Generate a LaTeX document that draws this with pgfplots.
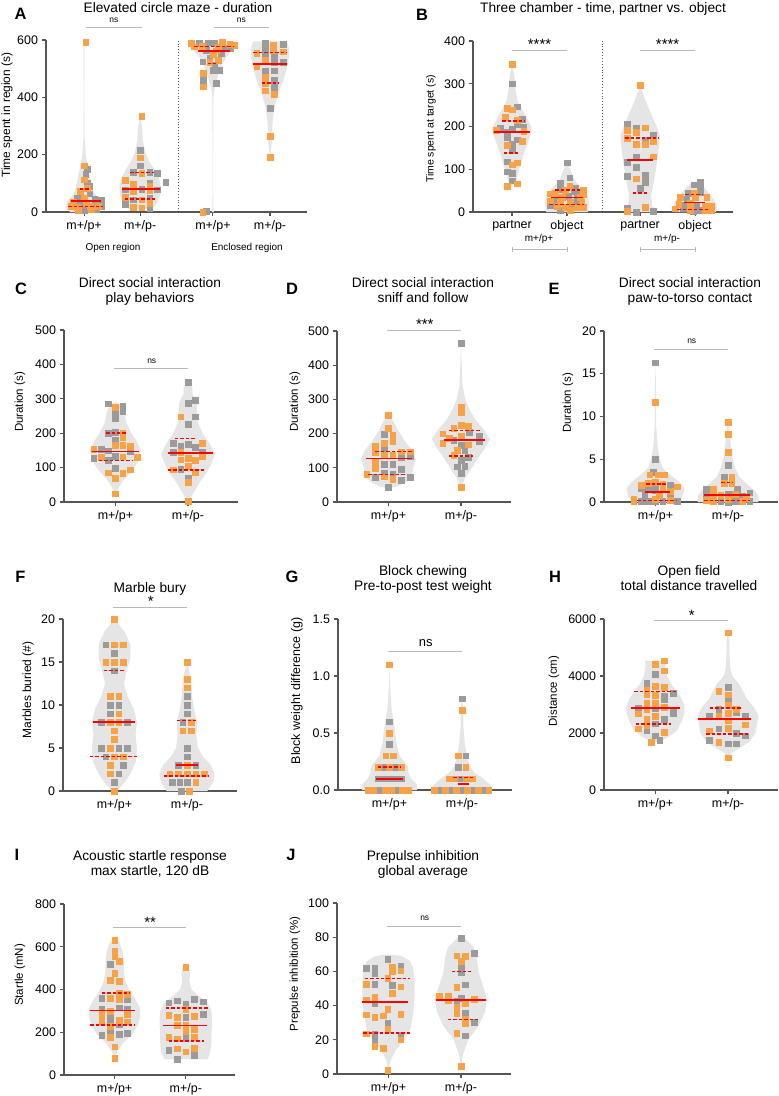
\documentclass[border=0pt]{standalone}
\usepackage{fontspec}
\setmainfont{Liberation Sans}
\usepackage{pgfplots}
\pgfplotsset{compat=1.18}
\usepackage{pgfplotstable}

\definecolor{pg}{RGB}{155,155,155}
\definecolor{po}{RGB}{247,162,70}
\definecolor{vf}{RGB}{229,229,229}
\definecolor{axc}{RGB}{85,85,85}
\definecolor{sgc}{RGB}{185,185,185}
\definecolor{rd}{RGB}{255,0,0}

\newcommand\tlf{\fontsize{12.5}{14}\selectfont}
\newcommand\ttf{\fontsize{13.8}{16}\selectfont}
\newcommand\ylf{\fontsize{11.5}{13}\selectfont}
\newcommand\lbf{\fontsize{16.5}{18}\selectfont\bfseries}
\newcommand\nsf{\fontsize{8.5}{10}\selectfont}
\newcommand\stf{\fontsize{15}{16}\selectfont}
\newcommand\smf{\fontsize{10}{12}\selectfont}

\pgfplotsset{
 panel/.style={
   scale only axis, anchor=south west,
   axis lines*=left,
   axis line style={draw=axc, line width=1.3pt, -},
   tick style={draw=axc, line width=1.1pt},
   tick align=outside, major tick length=4.5pt,
   xtick pos=bottom, ytick pos=left,
   ymin=0, clip=false, clip marker paths=true,
   tick label style={font=\tlf, text=black},
   /pgf/number format/assume math mode=true,
   minor tick num=0,
 },
 cpanel/.style={panel, width=174bp, height=171bp, xmin=0.29, xmax=2.69,
   xtick={1,2}, xticklabels={m+/p+,m+/p-}},
 gp/.style={only marks, mark=square*, mark size=2.85pt, color=pg, forget plot},
 op/.style={only marks, mark=square*, mark size=2.85pt, color=po, forget plot},
 ml/.style={rd, line width=1.8pt, no marks, forget plot},
 ql/.style={rd, line width=1.5pt, dash pattern=on 3.5pt off 2pt, no marks, forget plot},
}

\newcommand\violin[2]{%
 \addplot[fill=vf, draw=none, no marks, forget plot] table[x expr={#1+\thisrow{s}*\thisrow{w}}, y=y] {#2};
}
\newcommand\sig[6]{%
 \draw[draw=sgc, line width=0.9pt] (axis cs:#1,#4) -- (axis cs:#2,#4);
 \node[anchor=base, inner sep=0pt, yshift=#5] at (axis cs:#3,#4) {#6};
}

% ---------------- violin outlines (y, half width, side) ----------------
\pgfplotstableread{
y w s
0 0.25 1
15 0.33 1
35 0.31 1
55 0.22 1
75 0.16 1
100 0.13 1
130 0.1 1
160 0.07 1
200 0.03 1
260 0.01 1
400 0.006 1
560 0.01 1
592 0 1
560 0.01 -1
400 0.006 -1
260 0.01 -1
200 0.03 -1
160 0.07 -1
130 0.1 -1
100 0.13 -1
75 0.16 -1
55 0.22 -1
35 0.31 -1
15 0.33 -1
0 0.25 -1
}\vAa
\pgfplotstableread{
y w s
10 0.2 1
30 0.3 1
60 0.36 1
90 0.37 1
120 0.33 1
150 0.25 1
180 0.15 1
210 0.09 1
250 0.05 1
290 0.04 1
335 0 1
290 0.04 -1
250 0.05 -1
210 0.09 -1
180 0.15 -1
150 0.25 -1
120 0.33 -1
90 0.37 -1
60 0.36 -1
30 0.3 -1
10 0.2 -1
}\vAb
\pgfplotstableread{
y w s
0 0.02 1
15 0.01 1
100 0.003 1
400 0.01 1
430 0.03 1
450 0.06 1
480 0.1 1
510 0.16 1
540 0.24 1
560 0.33 1
580 0.42 1
595 0.4 1
595 0.4 -1
580 0.42 -1
560 0.33 -1
540 0.24 -1
510 0.16 -1
480 0.1 -1
450 0.06 -1
430 0.03 -1
400 0.01 -1
100 0.003 -1
15 0.01 -1
0 0.02 -1
}\vAc
\pgfplotstableread{
y w s
190 0 1
220 0.02 1
260 0.04 1
300 0.04 1
340 0.06 1
380 0.1 1
420 0.16 1
460 0.24 1
500 0.3 1
540 0.34 1
570 0.34 1
595 0.3 1
595 0.3 -1
570 0.34 -1
540 0.34 -1
500 0.3 -1
460 0.24 -1
420 0.16 -1
380 0.1 -1
340 0.06 -1
300 0.04 -1
260 0.04 -1
220 0.02 -1
}\vAd
\pgfplotstableread{
y w s
60 0 1
75 0.08 1
100 0.13 1
130 0.2 1
160 0.28 1
185 0.35 1
200 0.35 1
220 0.27 1
240 0.18 1
260 0.1 1
290 0.06 1
320 0.04 1
345 0 1
320 0.04 -1
290 0.06 -1
260 0.1 -1
240 0.18 -1
220 0.27 -1
200 0.35 -1
185 0.35 -1
160 0.28 -1
130 0.2 -1
100 0.13 -1
75 0.08 -1
}\vBa
\pgfplotstableread{
y w s
0 0.38 1
20 0.4 1
40 0.38 1
55 0.28 1
70 0.16 1
85 0.1 1
100 0.06 1
115 0 1
100 0.06 -1
85 0.1 -1
70 0.16 -1
55 0.28 -1
40 0.38 -1
20 0.4 -1
0 0.38 -1
}\vBb
\pgfplotstableread{
y w s
0 0.3 1
15 0.22 1
40 0.2 1
70 0.25 1
110 0.3 1
150 0.34 1
180 0.36 1
200 0.3 1
230 0.2 1
260 0.1 1
296 0 1
260 0.1 -1
230 0.2 -1
200 0.3 -1
180 0.36 -1
150 0.34 -1
110 0.3 -1
70 0.25 -1
40 0.2 -1
15 0.22 -1
0 0.3 -1
}\vBc
\pgfplotstableread{
y w s
0 0.38 1
10 0.4 1
25 0.36 1
40 0.28 1
55 0.18 1
65 0.1 1
72 0 1
65 0.1 -1
55 0.18 -1
40 0.28 -1
25 0.36 -1
10 0.4 -1
0 0.38 -1
}\vBd
\pgfplotstableread{
y w s
20 0 1
40 0.04 1
60 0.1 1
80 0.18 1
100 0.26 1
125 0.33 1
150 0.35 1
175 0.3 1
200 0.22 1
230 0.15 1
260 0.12 1
280 0.08 1
290 0 1
280 0.08 -1
260 0.12 -1
230 0.15 -1
200 0.22 -1
175 0.3 -1
150 0.35 -1
125 0.33 -1
100 0.26 -1
80 0.18 -1
60 0.1 -1
40 0.04 -1
}\vCa
\pgfplotstableread{
y w s
0 0 1
20 0.06 1
50 0.14 1
80 0.24 1
110 0.32 1
140 0.37 1
170 0.3 1
200 0.2 1
230 0.14 1
260 0.13 1
290 0.12 1
315 0.06 1
335 0.06 1
350 0 1
335 0.06 -1
315 0.06 -1
290 0.12 -1
260 0.13 -1
230 0.14 -1
200 0.2 -1
170 0.3 -1
140 0.37 -1
110 0.32 -1
80 0.24 -1
50 0.14 -1
20 0.06 -1
}\vCb
\pgfplotstableread{
y w s
40 0 1
45 0.12 1
60 0.26 1
80 0.33 1
100 0.34 1
125 0.38 1
150 0.33 1
180 0.22 1
210 0.13 1
240 0.06 1
255 0 1
240 0.06 -1
210 0.13 -1
180 0.22 -1
150 0.33 -1
125 0.38 -1
100 0.34 -1
80 0.33 -1
60 0.26 -1
45 0.12 -1
}\vDa
\pgfplotstableread{
y w s
40 0 1
70 0.06 1
100 0.15 1
130 0.24 1
160 0.34 1
185 0.4 1
210 0.32 1
240 0.2 1
270 0.12 1
300 0.06 1
340 0.02 1
400 0.01 1
465 0 1
400 0.01 -1
340 0.02 -1
300 0.06 -1
270 0.12 -1
240 0.2 -1
210 0.32 -1
185 0.4 -1
160 0.34 -1
130 0.24 -1
100 0.15 -1
70 0.06 -1
}\vDb
\pgfplotstableread{
y w s
0 0.33 1
0.8 0.38 1
1.6 0.4 1
2.4 0.32 1
3.2 0.2 1
4 0.1 1
5 0.06 1
6.5 0.03 1
9 0.01 1
12 0.01 1
16.3 0 1
12 0.01 -1
9 0.01 -1
6.5 0.03 -1
5 0.06 -1
4 0.1 -1
3.2 0.2 -1
2.4 0.32 -1
1.6 0.4 -1
0.8 0.38 -1
0 0.33 -1
}\vEa
\pgfplotstableread{
y w s
0 0.42 1
0.7 0.42 1
1.4 0.36 1
2.2 0.25 1
3 0.15 1
4 0.1 1
5.5 0.05 1
7.5 0.03 1
9.3 0 1
7.5 0.03 -1
5.5 0.05 -1
4 0.1 -1
3 0.15 -1
2.2 0.25 -1
1.4 0.36 -1
0.7 0.42 -1
0 0.42 -1
}\vEb
\pgfplotstableread{
y w s
0 0.03 1
1 0.14 1
2 0.22 1
3.5 0.3 1
5 0.31 1
6.5 0.29 1
8 0.31 1
9.5 0.27 1
11 0.18 1
12.5 0.13 1
14 0.17 1
15.5 0.22 1
17 0.22 1
18.5 0.14 1
20 0 1
18.5 0.14 -1
17 0.22 -1
15.5 0.22 -1
14 0.17 -1
12.5 0.13 -1
11 0.18 -1
9.5 0.27 -1
8 0.31 -1
6.5 0.29 -1
5 0.31 -1
3.5 0.3 -1
2 0.22 -1
1 0.14 -1
0 0.03 -1
}\vFa
\pgfplotstableread{
y w s
0 0.28 1
1 0.36 1
2 0.38 1
3 0.33 1
4 0.22 1
5 0.15 1
6.5 0.13 1
8 0.14 1
9.5 0.1 1
11 0.07 1
13 0.06 1
15 0 1
13 0.06 -1
11 0.07 -1
9.5 0.1 -1
8 0.14 -1
6.5 0.13 -1
5 0.15 -1
4 0.22 -1
3 0.33 -1
2 0.38 -1
1 0.36 -1
0 0.28 -1
}\vFb
\pgfplotstableread{
y w s
0 0.38 1
0.05 0.38 1
0.1 0.3 1
0.15 0.26 1
0.2 0.26 1
0.25 0.2 1
0.3 0.14 1
0.4 0.1 1
0.5 0.08 1
0.6 0.06 1
0.7 0.03 1
0.9 0.01 1
1.1 0 1
0.9 0.01 -1
0.7 0.03 -1
0.6 0.06 -1
0.5 0.08 -1
0.4 0.1 -1
0.3 0.14 -1
0.25 0.2 -1
0.2 0.26 -1
0.15 0.26 -1
0.1 0.3 -1
0.05 0.38 -1
0 0.38 -1
}\vGa
\pgfplotstableread{
y w s
0 0.42 1
0.04 0.4 1
0.08 0.33 1
0.12 0.25 1
0.16 0.16 1
0.22 0.1 1
0.3 0.07 1
0.4 0.04 1
0.55 0.02 1
0.7 0.02 1
0.8 0 1
0.7 0.02 -1
0.55 0.02 -1
0.4 0.04 -1
0.3 0.07 -1
0.22 0.1 -1
0.16 0.16 -1
0.12 0.25 -1
0.08 0.33 -1
0.04 0.4 -1
0 0.42 -1
}\vGb
\pgfplotstableread{
y w s
1684 0 1
1750 0.1 1
1900 0.2 1
2100 0.3 1
2400 0.36 1
2700 0.4 1
2950 0.4 1
3200 0.36 1
3450 0.3 1
3700 0.22 1
4000 0.16 1
4300 0.14 1
4540 0.14 1
4540 0.14 -1
4300 0.14 -1
4000 0.16 -1
3700 0.22 -1
3450 0.3 -1
3200 0.36 -1
2950 0.4 -1
2700 0.4 -1
2400 0.36 -1
2100 0.3 -1
1900 0.2 -1
1750 0.1 -1
}\vHa
\pgfplotstableread{
y w s
1135 0 1
1300 0.05 1
1500 0.18 1
1700 0.3 1
2000 0.38 1
2300 0.4 1
2600 0.42 1
2900 0.36 1
3200 0.26 1
3500 0.2 1
3700 0.16 1
4000 0.06 1
4300 0.03 1
4800 0.02 1
5200 0.02 1
5520 0 1
5200 0.02 -1
4800 0.02 -1
4300 0.03 -1
4000 0.06 -1
3700 0.16 -1
3500 0.2 -1
3200 0.26 -1
2900 0.36 -1
2600 0.42 -1
2300 0.4 -1
2000 0.38 -1
1700 0.3 -1
1500 0.18 -1
1300 0.05 -1
}\vHb
\pgfplotstableread{
y w s
78 0 1
110 0.04 1
150 0.12 1
190 0.25 1
230 0.32 1
270 0.36 1
310 0.36 1
350 0.3 1
390 0.22 1
430 0.16 1
480 0.13 1
530 0.13 1
580 0.11 1
620 0.07 1
640 0 1
620 0.07 -1
580 0.11 -1
530 0.13 -1
480 0.13 -1
430 0.16 -1
390 0.22 -1
350 0.3 -1
310 0.36 -1
270 0.36 -1
230 0.32 -1
190 0.25 -1
150 0.12 -1
110 0.04 -1
}\vIa
\pgfplotstableread{
y w s
73 0.3 1
100 0.34 1
150 0.36 1
200 0.36 1
250 0.37 1
300 0.36 1
340 0.3 1
370 0.18 1
400 0.08 1
440 0.05 1
480 0.06 1
504 0.04 1
515 0 1
504 0.04 -1
480 0.06 -1
440 0.05 -1
400 0.08 -1
370 0.18 -1
340 0.3 -1
300 0.36 -1
250 0.37 -1
200 0.36 -1
150 0.36 -1
100 0.34 -1
73 0.3 -1
}\vIb
\pgfplotstableread{
y w s
2 0 1
8 0.03 1
14 0.1 1
20 0.22 1
26 0.3 1
35 0.34 1
45 0.36 1
55 0.36 1
62 0.34 1
66 0.3 1
69 0.18 1
70 0 1
69 0.18 -1
66 0.3 -1
62 0.34 -1
55 0.36 -1
45 0.36 -1
35 0.34 -1
26 0.3 -1
20 0.22 -1
14 0.1 -1
8 0.03 -1
}\vJa
\pgfplotstableread{
y w s
4.5 0 1
12 0.03 1
20 0.1 1
28 0.24 1
36 0.33 1
44 0.36 1
52 0.3 1
60 0.24 1
68 0.22 1
74 0.18 1
80 0.04 1
80 0.04 -1
74 0.18 -1
68 0.22 -1
60 0.24 -1
52 0.3 -1
44 0.36 -1
36 0.33 -1
28 0.24 -1
20 0.1 -1
12 0.03 -1
}\vJb

% ---------------- points ----------------
\pgfplotstableread{
x y
0.73 149
0.71 132
0.73 101
0.78 91
0.78 64
0.56 47
0.87 44
0.99 41
0.60 35
0.87 29
0.67 23
0.99 21
0.69 6
0.90 8
1.68 216
1.68 161
1.56 140
1.85 140
1.99 136
1.85 101
2.14 105
1.41 78
1.71 79
1.98 78
1.56 43
1.85 50
1.41 27
1.85 12
2.74 589
2.89 591
3.01 589
3.30 572
2.83 577
2.86 565
3.20 571
3.13 554
2.92 536
2.80 524
3.01 513
3.10 495
2.98 495
2.81 460
3.04 449
2.86 3
3.91 589
4.23 585
3.91 571
4.07 544
3.91 548
4.07 521
4.23 522
3.91 490
4.07 493
4.07 460
4.07 435
4.00 361
}\Ag
\pgfplotstableread{
x y
0.71 592
0.68 161
0.68 113
0.61 72
0.74 82
0.68 47
0.48 35
0.72 29
0.44 20
0.56 17
0.79 20
0.93 20
0.57 6
0.81 8
1.71 335
1.68 189
1.71 136
1.41 111
1.56 97
1.85 90
1.56 73
1.85 76
1.41 52
1.71 43
1.85 31
1.56 17
1.71 15
2.59 589
3.15 593
3.28 585
2.79 579
3.07 577
2.65 577
3.37 583
3.04 563
2.98 550
3.07 530
2.92 522
2.81 484
2.81 437
2.80 0
4.06 583
4.06 563
3.76 554
4.23 559
3.91 530
3.76 507
3.91 470
3.91 449
3.91 423
4.07 411
4.00 265
4.00 190
}\Ao
\pgfplotstableread{
x y
0.71 300
0.80 246
0.89 217
0.80 205
0.50 197
0.71 195
0.92 199
0.62 186
0.62 175
0.80 169
0.71 160
0.71 144
0.62 118
0.62 94
0.71 90
0.71 73
1.71 115
1.76 80
1.59 68
1.86 57
1.59 52
1.83 49
1.92 43
1.53 35
1.74 37
1.89 35
1.50 21
1.86 21
1.41 16
1.80 12
1.59 4
2.80 205
2.97 196
3.28 179
3.13 168
2.97 129
2.80 117
2.97 105
2.80 83
3.13 86
3.13 70
3.04 55
2.80 10
2.97 0
3.28 2
4.13 70
4.02 64
4.13 56
4.13 47
3.92 44
3.89 31
3.83 16
4.07 14
3.83 8
4.10 5
4.00 2
}\Bg
\pgfplotstableread{
x y
0.71 345
0.62 243
0.71 239
0.59 221
0.80 214
0.42 191
0.92 189
0.89 165
0.62 156
0.71 111
0.80 115
0.80 66
0.62 60
1.76 61
1.41 43
1.50 44
1.68 51
2.01 52
2.01 41
1.62 34
1.95 34
1.41 26
1.59 23
1.77 23
1.98 23
1.53 13
1.68 12
1.89 10
2.01 12
1.77 4
3.04 296
3.13 197
2.80 191
2.97 186
2.80 172
3.13 158
2.97 158
3.28 166
3.28 129
2.97 78
3.13 12
2.80 2
4.02 44
3.77 35
4.04 35
4.25 34
3.74 18
3.95 20
4.22 14
4.34 14
3.68 8
3.95 5
4.22 5
4.34 5
}\Bo
\pgfplotstableread{
x y
0.9 286
1.1 279
1.1 264
1.0 262
1.0 243
1.0 202
0.9 200
1.0 181
0.8 154
0.9 149
1.2 146
0.7 127
1.0 133
0.9 122
1.0 99
2.0 348
2.0 288
2.1 295
2.1 248
2.0 227
1.8 171
1.9 162
2.0 168
2.1 160
1.8 144
2.2 146
1.9 96
2.0 70
}\Cg
\pgfplotstableread{
x y
1.0 276
1.1 200
1.1 188
1.0 165
1.1 165
1.2 163
0.7 154
0.8 130
1.1 132
1.3 130
0.9 85
1.1 84
1.2 94
1.0 69
1.0 24
1.9 248
2.2 171
1.9 144
2.2 133
1.9 123
2.0 128
2.1 122
1.8 94
2.0 104
2.1 87
2.0 58
2.0 3
}\Co
\pgfplotstableread{
x y
0.94 198
0.94 153
1.18 132
1.30 134
0.94 111
1.06 111
1.18 95
0.94 84
1.06 82
0.82 72
1.18 64
1.30 72
1.00 43
2.00 464
2.11 205
2.25 192
1.90 180
2.00 166
2.05 151
2.10 132
2.00 122
1.95 103
2.05 105
2.00 84
2.25 176
}\Dg
\pgfplotstableread{
x y
1.00 253
1.00 216
1.06 195
1.06 178
0.94 171
0.82 163
1.18 147
1.30 147
0.82 144
0.94 137
1.06 137
0.82 117
0.82 98
0.70 82
0.94 74
1.06 66
2.00 278
2.00 261
1.90 215
2.00 224
2.10 222
1.75 200
2.00 192
1.75 171
2.10 168
1.90 137
1.95 151
2.00 43
1.84 186
}\Do
\pgfplotstableread{
x y
1.00 16.3
1.00 5.0
0.97 3.5
1.20 2.0
1.00 1.9
0.80 1.6
0.90 1.5
1.00 1.4
1.20 1.0
0.85 0.8
0.80 0.1
0.90 0.1
1.00 0.1
1.10 0.1
1.30 0.1
2.00 4.3
1.95 2.9
1.70 1.5
2.13 1.5
2.30 1.1
1.70 0.9
2.00 0.9
2.20 0.7
1.80 0.3
1.90 0.1
2.10 0.1
2.30 0.1
2.00 0.0
}\Eg
\pgfplotstableread{
x y
1.00 11.7
0.92 3.2
1.04 3.2
1.12 3.2
1.00 2.3
0.90 2.2
1.10 2.1
0.80 2.0
1.30 1.8
1.10 1.5
1.20 1.3
0.70 0.4
1.05 0.8
1.00 0.3
1.20 0.2
0.70 0.1
2.00 9.3
2.00 7.9
2.00 5.8
2.05 2.9
1.95 2.2
2.05 2.2
1.80 1.5
1.80 0.7
1.90 0.8
2.10 0.9
2.25 0.4
1.70 0.2
2.00 0.3
2.20 0.1
1.80 0.05
}\Eo
\pgfplotstableread{
x y
0.88 17
1.00 16
1.00 14
0.94 10
1.06 10
0.94 9
0.82 8
1.18 8
0.82 5
1.06 5
1.18 5
0.88 4
1.12 3
1.06 2
1.00 1
2.00 11
2.00 10
2.00 9
1.94 8
2.00 5
2.00 4
1.88 3
2.12 3
1.80 1
1.90 1
2.00 1
1.92 0
}\Fg
\pgfplotstableread{
x y
1.00 20
1.00 17
1.12 17
0.88 15
1.00 15
1.12 15
0.94 11
1.06 11
1.06 9
0.94 8
1.06 8
1.00 7
1.00 6
0.94 5
1.00 4
1.12 4
0.94 3
0.94 2
1.00 0
2.00 15
2.00 13
2.00 12
2.06 8
1.94 7
2.06 7
2.00 3
1.76 2
1.88 2
2.00 2
2.12 2
2.24 2
2.12 1
2.03 0
}\Fo
\pgfplotstableread{
x y
1.00 0.6
1.00 0.4
0.92 0.2
1.08 0.2
0.84 0.1
0.92 0.1
1.00 0.1
1.08 0.1
1.16 0.1
0.86 0
1.10 0
2.00 0.8
2.05 0.3
1.95 0.2
1.98 0.1
1.695 0
1.845 0
1.995 0
2.145 0
2.295 0
}\Gg
\pgfplotstableread{
x y
1.00 1.1
1.00 0.5
0.95 0.3
1.05 0.3
0.84 0.2
1.00 0.2
1.16 0.2
0.70 0
0.78 0
0.94 0
1.02 0
1.18 0
1.26 0
2.00 0.7
1.95 0.3
2.05 0.2
1.82 0.1
1.90 0.1
2.06 0.1
2.14 0.1
1.62 0
1.77 0
1.92 0
2.07 0
2.22 0
2.37 0
}\Go
\pgfplotstableread{
x y
1.00 4070
0.88 3754
1.24 3404
1.12 3287
1.12 3170
0.76 2877
1.00 2877
1.24 2819
1.24 2678
1.12 2491
1.00 2327
0.88 2082
1.00 1906
1.06 1743
2.00 3614
2.00 3205
1.87 2842
1.74 2585
2.11 2725
2.24 2585
1.87 2152
2.11 2000
2.24 1906
1.74 1743
2.00 1626
2.11 1626
}\Hg
\pgfplotstableread{
x y
1.12 4538
1.00 4421
1.12 4187
1.00 3637
1.12 3614
0.88 3520
0.88 3345
1.00 3322
0.88 3053
1.00 3053
1.12 2912
0.88 2819
0.76 2678
1.00 2585
0.88 2503
0.88 2269
0.76 2152
1.12 2035
0.94 1684
2.00 5520
1.87 3462
2.00 3345
2.00 2971
2.11 2842
1.87 2585
2.00 2702
2.00 2433
2.00 2175
1.74 2082
2.24 2292
1.87 1684
2.00 1135
}\Ho
\pgfplotstableread{
x y
0.94 520
0.82 359
1.18 354
0.82 307
1.06 315
1.18 307
0.94 276
0.94 254
0.94 211
1.06 239
0.82 187
1.06 192
1.18 195
1.76 338
1.88 348
2.00 332
2.12 354
2.24 343
2.00 270
2.24 284
2.00 173
1.76 117
2.12 92
1.88 73
}\Ig
\pgfplotstableread{
x y
1.00 632
1.00 582
1.00 555
1.06 534
1.00 476
0.94 445
1.06 440
1.06 385
1.18 379
0.94 359
1.06 354
0.94 300
0.82 285
1.18 285
0.82 253
1.06 257
1.18 250
0.94 229
0.94 176
1.00 133
1.00 78
2.00 504
2.00 307
1.76 281
1.88 270
2.12 276
1.88 234
2.00 234
2.00 203
2.12 214
1.76 176
1.88 170
2.12 176
1.88 123
2.00 109
2.12 125
}\Io
\pgfplotstableread{
x y
0.99 67
0.69 62
0.81 62
1.17 63
0.81 59
0.81 52.6
1.05 51.9
0.81 41.5
0.99 29.8
0.81 23.6
1.17 23
0.81 20.5
2.00 79.5
2.18 70.8
2.00 62
2.00 59.5
2.06 52.2
2.00 44.4
1.94 42.5
2.06 35.7
2.18 30.4
2.06 22.4
}\Jg
\pgfplotstableread{
x y
1.05 62.6
1.05 60
1.17 60.4
0.99 56
0.69 52.6
1.17 51
1.05 47.4
0.69 43.5
0.81 44.8
0.99 38
0.69 34.7
0.81 33.3
0.93 34.1
1.17 34.9
0.99 26.3
0.69 23.6
1.17 20
0.81 16.2
0.93 15.2
0.99 2.1
1.94 69.2
2.06 68.8
2.00 65.9
1.94 50.9
1.70 45.8
1.82 45.8
2.06 41.1
2.18 43.9
1.82 42.9
1.94 39.2
1.94 35.3
2.06 32.2
2.06 29.4
1.94 24
2.00 4.5
}\Jo

\begin{document}
\begin{tikzpicture}

% ---------------- A ----------------
\begin{axis}[panel, at={(46bp,-212bp)}, width=261bp, height=172bp,
  xmin=0, xmax=4.66, ymax=600,
  xtick={0.68,1.68,2.98,4.0}, xticklabels={m+/p+,m+/p-,m+/p+,m+/p-},
  ytick={0,200,400,600}, yticklabels={0,200,400,600}]
\violin{0.68}{\vAa}
\violin{1.68}{\vAb}
\violin{2.98}{\vAc}
\violin{4.0}{\vAd}
\addplot[gp] table {\Ag};
\addplot[op] table {\Ao};
\addplot[ml] coordinates {(0.44,38) (0.99,38)};
\addplot[ql] coordinates {(0.60,80) (0.77,80)};
\addplot[ql] coordinates {(0.40,20) (1.02,20)};
\addplot[ml] coordinates {(1.35,80) (2.04,80)};
\addplot[ql] coordinates {(1.50,138) (1.92,138)};
\addplot[ql] coordinates {(1.41,45) (1.95,45)};
\addplot[ml] coordinates {(2.71,562) (3.28,562)};
\addplot[ql] coordinates {(2.65,577) (3.34,577)};
\addplot[ql] coordinates {(2.89,518) (3.04,518)};
\addplot[ml] coordinates {(3.70,515) (4.30,515)};
\addplot[ql] coordinates {(3.70,557) (4.30,557)};
\addplot[ql] coordinates {(3.85,450) (4.15,450)};
\draw[axc, line width=0.9pt, dotted] (axis cs:2.36,0) -- (axis cs:2.36,600);
\sig{0.71}{1.71}{1.21}{645}{5bp}{\nsf ns}
\sig{3.0}{3.98}{3.49}{645}{5bp}{\nsf ns}
\end{axis}

% ---------------- B ----------------
\begin{axis}[panel, at={(473bp,-212bp)}, width=260bp, height=171bp,
  xmin=0, xmax=4.73, ymax=400,
  xtick={0.71,1.71,3.04,4.04}, xticklabels={partner,object,partner,object},
  ytick={0,100,200,300,400}, yticklabels={0,100,200,300,400}]
\violin{0.71}{\vBa}
\violin{1.71}{\vBb}
\violin{3.04}{\vBc}
\violin{4.04}{\vBd}
\addplot[gp] table {\Bg};
\addplot[op] table {\Bo};
\addplot[ml] coordinates {(0.38,187) (1.04,187)};
\addplot[ql] coordinates {(0.53,213) (0.95,213)};
\addplot[ql] coordinates {(0.56,138) (0.83,138)};
\addplot[ml] coordinates {(1.41,34) (2.01,34)};
\addplot[ql] coordinates {(1.50,52) (1.95,52)};
\addplot[ql] coordinates {(1.39,17) (2.02,17)};
\addplot[ml] coordinates {(2.81,122) (3.28,122)};
\addplot[ql] coordinates {(2.77,173) (3.38,173)};
\addplot[ql] coordinates {(2.91,45) (3.16,45)};
\addplot[ml] coordinates {(3.83,22) (4.22,22)};
\addplot[ql] coordinates {(3.86,41) (4.19,41)};
\addplot[ql] coordinates {(3.72,6) (4.30,6)};
\draw[axc, line width=0.9pt, dotted] (axis cs:2.36,0) -- (axis cs:2.36,400);
\sig{0.71}{1.71}{1.21}{377}{1bp}{\stf ****}
\sig{3.04}{4.04}{3.54}{377}{1bp}{\stf ****}
\end{axis}

% ---------------- C ----------------
\begin{axis}[cpanel, at={(64bp,-502bp)}, height=172bp, ymax=500,
  ytick={0,100,200,300,400,500}, yticklabels={0,100,200,300,400,500}]
\violin{1}{\vCa}
\violin{2}{\vCb}
\addplot[gp] table {\Cg};
\addplot[op] table {\Co};
\addplot[ml] coordinates {(0.67,147) (1.32,147)};
\addplot[ql] coordinates {(0.87,200) (1.14,200)};
\addplot[ql] coordinates {(0.77,120) (1.23,120)};
\addplot[ml] coordinates {(1.72,143) (2.34,143)};
\addplot[ql] coordinates {(1.82,185) (2.11,185)};
\addplot[ql] coordinates {(1.72,93) (2.23,93)};
\sig{0.98}{2}{1.5}{387}{5bp}{\nsf ns}
\end{axis}

% ---------------- D ----------------
\begin{axis}[cpanel, at={(337bp,-502bp)}, ymax=500,
  ytick={0,100,200,300,400,500}, yticklabels={0,100,200,300,400,500}]
\violin{1}{\vDa}
\violin{2}{\vDb}
\addplot[gp] table {\Dg};
\addplot[op] table {\Do};
\addplot[ml] coordinates {(0.69,127) (1.32,127)};
\addplot[ql] coordinates {(0.82,148) (1.33,148)};
\addplot[ql] coordinates {(0.72,80) (1.23,80)};
\addplot[ml] coordinates {(1.77,182) (2.33,182)};
\addplot[ql] coordinates {(1.83,209) (2.28,209)};
\addplot[ql] coordinates {(1.83,134) (2.17,134)};
\sig{0.98}{2}{1.5}{503}{0.5bp}{\stf ***}
\end{axis}

% ---------------- E ----------------
\begin{axis}[cpanel, at={(604bp,-502bp)}, ymax=20,
  ytick={0,5,10,15,20}, yticklabels={0,5,10,15,20}]
\violin{1}{\vEa}
\violin{2}{\vEb}
\addplot[gp] table {\Eg};
\addplot[op] table {\Eo};
\addplot[ml] coordinates {(0.85,1.2) (1.2,1.2)};
\addplot[ql] coordinates {(0.87,2.1) (1.15,2.1)};
\addplot[ql] coordinates {(0.75,0.15) (1.3,0.15)};
\addplot[ml] coordinates {(1.67,0.86) (2.31,0.86)};
\addplot[ql] coordinates {(1.91,2.3) (2.07,2.3)};
\addplot[ql] coordinates {(1.67,0.2) (2.31,0.2)};
\sig{0.98}{2}{1.5}{17.8}{6bp}{\nsf ns}
\end{axis}

% ---------------- F ----------------
\begin{axis}[cpanel, at={(63bp,-791bp)}, height=172bp, ymax=20,
  ytick={0,5,10,15,20}, yticklabels={0,5,10,15,20}]
\violin{1}{\vFa}
\violin{2}{\vFb}
\addplot[gp] table {\Fg};
\addplot[op] table {\Fo};
\addplot[ml] coordinates {(0.71,8) (1.29,8)};
\addplot[ql] coordinates {(0.85,14) (1.15,14)};
\addplot[ql] coordinates {(0.66,4) (1.31,4)};
\addplot[ml] coordinates {(1.85,3) (2.15,3)};
\addplot[ql] coordinates {(1.86,8.2) (2.12,8.2)};
\addplot[ql] coordinates {(1.68,1.75) (2.31,1.75)};
\sig{0.98}{2}{1.5}{21.4}{0bp}{\stf *}
\end{axis}

% ---------------- G ----------------
\begin{axis}[cpanel, at={(338bp,-790bp)}, ymax=1.5,
  ytick={0,0.5,1,1.5}, yticklabels={0.0,0.5,1.0,1.5}]
\violin{1}{\vGa}
\violin{2}{\vGb}
\addplot[gp] table {\Gg};
\addplot[op] table {\Go};
\addplot[ml] coordinates {(0.82,0.1) (1.18,0.1)};
\addplot[ql] coordinates {(0.84,0.2) (1.16,0.2)};
\addplot[ml] coordinates {(1.94,0.05) (2.1,0.05)};
\addplot[ql] coordinates {(1.88,0.11) (2.18,0.11)};
\sig{0.98}{2}{1.5}{1.219}{5bp}{\fontsize{13}{14}\selectfont ns}
\end{axis}

% ---------------- H ----------------
\begin{axis}[cpanel, at={(604bp,-790bp)}, ymax=6000,
  ytick={0,2000,4000,6000}, yticklabels={0,2000,4000,6000}]
\violin{1}{\vHa}
\violin{2}{\vHb}
\addplot[gp] table {\Hg};
\addplot[op] table {\Ho};
\addplot[ml] coordinates {(0.66,2880) (1.34,2880)};
\addplot[ql] coordinates {(0.71,3450) (1.28,3450)};
\addplot[ql] coordinates {(0.73,2320) (1.22,2320)};
\addplot[ml] coordinates {(1.58,2500) (2.32,2500)};
\addplot[ql] coordinates {(1.75,2880) (2.19,2880)};
\addplot[ql] coordinates {(1.70,1970) (2.27,1970)};
\sig{0.98}{2}{1.5}{5965}{0bp}{\stf *}
\end{axis}

% ---------------- I ----------------
\begin{axis}[cpanel, at={(64bp,-1075bp)}, width=171bp, ymax=800,
  ytick={0,200,400,600,800}, yticklabels={0,200,400,600,800}]
\violin{1}{\vIa}
\violin{2}{\vIb}
\addplot[gp] table {\Ig};
\addplot[op] table {\Io};
\addplot[ml] coordinates {(0.65,302) (1.29,302)};
\addplot[ql] coordinates {(0.82,383) (1.21,383)};
\addplot[ql] coordinates {(0.66,233) (1.29,233)};
\addplot[ml] coordinates {(1.68,232) (2.29,232)};
\addplot[ql] coordinates {(1.72,313) (2.32,313)};
\addplot[ql] coordinates {(1.76,158) (2.26,158)};
\sig{0.98}{2}{1.5}{692}{0bp}{\stf **}
\end{axis}

% ---------------- J ----------------
\begin{axis}[cpanel, at={(337bp,-1074bp)}, ymax=100,
  ytick={0,20,40,60,80,100}, yticklabels={0,20,40,60,80,100}]
\violin{1}{\vJa}
\violin{2}{\vJb}
\addplot[gp] table {\Jg};
\addplot[op] table {\Jo};
\addplot[ml] coordinates {(0.64,42) (1.27,42)};
\addplot[ql] coordinates {(0.67,56) (1.3,56)};
\addplot[ql] coordinates {(0.65,24) (1.31,24)};
\addplot[ml] coordinates {(1.66,43.5) (2.34,43.5)};
\addplot[ql] coordinates {(1.87,60) (2.14,60)};
\addplot[ql] coordinates {(1.82,32) (2.23,32)};
\sig{0.98}{2}{1.5}{86.5}{6bp}{\nsf ns}
\end{axis}

% ---------------- texts ----------------
\begin{scope}[every node/.style={inner sep=0pt}]
\node[font=\lbf] at (20.5bp,-14bp) {A};
\node[font=\lbf] at (422bp,-15bp) {B};
\node[font=\lbf] at (21bp,-289bp) {C};
\node[font=\lbf] at (292bp,-289bp) {D};
\node[font=\lbf] at (554bp,-289bp) {E};
\node[font=\lbf] at (20.5bp,-577bp) {F};
\node[font=\lbf] at (292bp,-577bp) {G};
\node[font=\lbf] at (555bp,-577bp) {H};
\node[font=\lbf] at (17bp,-855bp) {I};
\node[font=\lbf] at (291bp,-855bp) {J};
\node[font=\ttf, anchor=base] at (178bp,-12bp) {Elevated circle maze - duration};
\node[font=\ttf, anchor=base] at (603bp,-12bp) {Three chamber - time, partner vs. object};
\node[font=\ttf, anchor=base] at (150bp,-287bp) {Direct social interaction};
\node[font=\ttf, anchor=base] at (150bp,-302bp) {play behaviors};
\node[font=\ttf, anchor=base] at (423bp,-287bp) {Direct social interaction};
\node[font=\ttf, anchor=base] at (423bp,-302bp) {sniff and follow};
\node[font=\ttf, anchor=base] at (690bp,-287bp) {Direct social interaction};
\node[font=\ttf, anchor=base] at (690bp,-302bp) {paw-to-torso contact};
\node[font=\ttf, anchor=base] at (150bp,-592bp) {Marble bury};
\node[font=\ttf, anchor=base] at (423bp,-575bp) {Block chewing};
\node[font=\ttf, anchor=base] at (423bp,-590bp) {Pre-to-post test weight};
\node[font=\ttf, anchor=base] at (689bp,-575bp) {Open field};
\node[font=\ttf, anchor=base] at (689bp,-590bp) {total distance travelled};
\node[font=\ttf, anchor=base] at (150bp,-860bp) {Acoustic startle response};
\node[font=\ttf, anchor=base] at (150bp,-875bp) {max startle, 120 dB};
\node[font=\ttf, anchor=base] at (423bp,-860bp) {Prepulse inhibition};
\node[font=\ttf, anchor=base] at (423bp,-875bp) {global average};
\node[font=\fontsize{12}{13}\selectfont, rotate=90] at (7bp,-115bp) {Time spent in region (s)};
\node[font=\fontsize{10.5}{12}\selectfont, rotate=90] at (431bp,-129bp) {Time spent at target (s)};
\node[font=\ylf, rotate=90] at (20bp,-402bp) {Duration (s)};
\node[font=\ylf, rotate=90] at (295bp,-402bp) {Duration (s)};
\node[font=\ylf, rotate=90] at (568bp,-403bp) {Duration (s)};
\node[font=\fontsize{12}{13}\selectfont, rotate=90] at (28bp,-690bp) {Marbles buried (\#)};
\node[font=\fontsize{12.5}{13}\selectfont, rotate=90] at (297bp,-691bp) {Block weight difference (g)};
\node[font=\ylf, rotate=90] at (554bp,-691bp) {Distance (cm)};
\node[font=\ylf, rotate=90] at (20bp,-975bp) {Startle (mN)};
\node[font=\ylf, rotate=90] at (295bp,-974bp) {Prepulse inhibition (\%)};
\node[font=\smf, anchor=base] at (113bp,-250bp) {Open region};
\node[font=\smf, anchor=base] at (247bp,-250bp) {Enclosed region};
\node[font=\smf, anchor=base] at (539bp,-241bp) {m+/p+};
\node[font=\smf, anchor=base] at (667bp,-241bp) {m+/p-};
\draw[sgc, line width=0.8pt] (512bp,-249bp) -- (567bp,-249bp);
\draw[sgc, line width=0.8pt] (512bp,-246.5bp) -- (512bp,-251.5bp);
\draw[sgc, line width=0.8pt] (567bp,-246.5bp) -- (567bp,-251.5bp);
\draw[sgc, line width=0.8pt] (640bp,-249bp) -- (695bp,-249bp);
\draw[sgc, line width=0.8pt] (640bp,-246.5bp) -- (640bp,-251.5bp);
\draw[sgc, line width=0.8pt] (695bp,-246.5bp) -- (695bp,-251.5bp);
\end{scope}
\pgfresetboundingbox
\useasboundingbox (0,0) rectangle (779bp,-1096bp);
\end{tikzpicture}
\end{document}
